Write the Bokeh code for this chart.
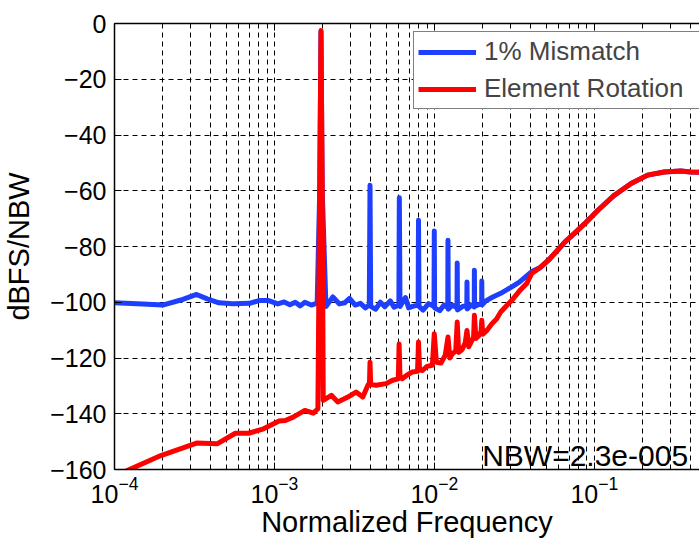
from bokeh.plotting import figure
from bokeh.models import FixedTicker, LogAxis, Label, Legend, LegendItem, Range1d
from bokeh.embed import file_html
from bokeh.resources import INLINE

# Spectra (normalized frequency vs dBFS/NBW)
blue_f = [1.0e-4, 1.5e-4, 2.0e-4, 2.6e-4, 3.26e-4, 3.8e-4, 4.5e-4, 5.5e-4, 7.0e-4, 8.0e-4,
          9.2e-4, 1.05e-3, 1.15e-3, 1.25e-3, 1.35e-3, 1.45e-3, 1.55e-3, 1.7e-3, 1.85e-3, 1.92e-3,
          1.955e-3, 1.99e-3, 2.10e-3, 2.32e-3, 2.55e-3, 2.75e-3, 2.95e-3, 3.2e-3, 3.45e-3, 3.7e-3,
          3.92e-3, 3.96e-3, 4.0e-3, 4.3e-3, 4.6e-3, 4.9e-3, 5.3e-3, 5.6e-3, 6.0e-3, 6.04e-3,
          6.1e-3, 6.6e-3, 6.9e-3, 7.3e-3, 7.92e-3, 7.96e-3, 8.02e-3, 8.5e-3, 9.2e-3, 9.95e-3,
          9.99e-3, 1.004e-2, 1.08e-2, 1.15e-2, 1.213e-2, 1.217e-2, 1.222e-2, 1.3e-2, 1.386e-2, 1.39e-2,
          1.395e-2, 1.5e-2, 1.596e-2, 1.60e-2, 1.605e-2, 1.7e-2, 1.776e-2, 1.78e-2, 1.785e-2, 1.9e-2,
          1.976e-2, 1.98e-2, 1.985e-2, 2.1e-2, 2.29e-2, 2.6e-2, 3.05e-2, 3.4e-2, 3.78e-2, 4.06e-2,
          4.6e-2, 5.15e-2, 5.8e-2, 6.54e-2, 7.6e-2, 8.71e-2, 0.1054, 0.1336, 0.170, 0.2156,
          0.2734, 0.347, 0.401, 0.455, 0.5]
blue_db = [-100.2, -100.6, -101.0, -99.2, -97.2, -98.8, -100.2, -100.5, -100.4, -99.4,
           -99.4, -100.6, -99.9, -100.9, -100.0, -101.3, -100.0, -101.0, -100.3, -60.0,
           -3.0, -60.0, -101.5, -98.1, -100.6, -100.2, -98.6, -101.0, -100.4, -102.0,
           -101.0, -58.0, -101.5, -102.5, -100.0, -101.6, -99.5, -101.8, -101.0, -62.5,
           -101.5, -98.3, -102.0, -101.5, -101.0, -70.6, -101.5, -102.8, -100.5, -101.5,
           -74.4, -102.0, -103.0, -101.0, -102.0, -77.8, -102.5, -101.0, -102.0, -85.9,
           -102.8, -101.5, -101.2, -92.7, -102.4, -101.0, -101.7, -88.5, -101.5, -100.8,
           -100.8, -92.4, -101.0, -99.5, -98.3, -96.8, -94.5, -92.8, -90.5, -89.0,
           -87.5, -85.0, -81.8, -78.4, -75.0, -71.8, -67.0, -61.6, -57.4, -54.4,
           -53.3, -52.9, -53.3, -53.4, -53.5]

red_f = [1.00e-4, 1.24e-4, 1.95e-4, 3.26e-4, 4.38e-4, 5.70e-4, 6.90e-4, 8.55e-4, 1.07e-3, 1.17e-3,
         1.31e-3, 1.55e-3, 1.75e-3, 1.87e-3, 1.92e-3, 1.955e-3, 1.99e-3, 2.02e-3,
         2.27e-3, 2.49e-3, 2.88e-3, 3.24e-3, 3.57e-3, 3.84e-3, 3.93e-3, 3.96e-3, 4.00e-3, 4.32e-3,
         4.98e-3, 5.48e-3, 5.95e-3, 6.02e-3, 6.10e-3, 6.30e-3, 6.8e-3, 7.3e-3, 7.85e-3, 7.96e-3,
         8.08e-3, 8.4e-3, 9.0e-3, 9.72e-3, 9.99e-3, 1.03e-2, 1.1e-2, 1.17e-2, 1.217e-2, 1.25e-2,
         1.295e-2, 1.36e-2, 1.39e-2, 1.42e-2, 1.49e-2, 1.56e-2, 1.60e-2, 1.64e-2, 1.72e-2, 1.76e-2,
         1.78e-2, 1.82e-2, 1.9e-2, 1.96e-2, 1.98e-2, 2.01e-2, 2.14e-2, 2.29e-2, 2.45e-2, 2.6e-2,
         2.8e-2, 3.05e-2, 3.4e-2, 3.78e-2, 4.06e-2, 4.6e-2, 5.15e-2, 5.8e-2, 6.54e-2, 7.6e-2,
         8.71e-2, 0.1054, 0.1336, 0.170, 0.2156, 0.2734, 0.347, 0.401, 0.455, 0.5]
red_db = [-162.5, -160.0, -155.0, -150.5, -150.8, -147.0, -147.0, -145.4, -142.6, -142.4,
          -141.2, -138.8, -139.8, -138.2, -60.0, -2.5, -60.0, -135.2,
          -133.4, -135.8, -134.0, -132.2, -134.0, -129.8, -129.0, -121.5, -129.5, -129.8,
          -129.2, -128.0, -127.5, -115.0, -126.8, -127.4, -126.0, -125.0, -124.8, -114.3,
          -124.0, -124.5, -123.0, -122.6, -111.3, -121.5, -121.8, -119.0, -112.5, -120.0,
          -118.5, -117.5, -107.1, -118.0, -117.0, -114.5, -110.1, -116.0, -113.7, -112.5,
          -104.7, -113.0, -112.0, -110.5, -106.5, -111.5, -110.0, -107.7, -106.0, -103.5,
          -101.5, -99.3, -96.0, -93.3, -89.7, -87.5, -85.0, -81.8, -78.4, -75.0,
          -71.8, -67.0, -61.6, -57.4, -54.4, -53.3, -52.9, -53.3, -53.4, -53.5]

series_names = ["1% Mismatch", "Element Rotation"]
x_decades = [1e-4, 1e-3, 1e-2, 1e-1]
y_ticks = [0, -20, -40, -60, -80, -100, -120, -140, -160]
nbw_text = "NBW=2.3e-005"

FONT = "Liberation Sans"
minor_x = [k * d for d in x_decades for k in range(2, 10)]

p = figure(width=699, height=541, x_axis_type="log",
           x_range=Range1d(1e-4, 0.455), y_range=Range1d(-160, 0),
           output_backend="svg", toolbar_location=None,
           min_border_left=110, min_border_right=0,
           min_border_top=23, min_border_bottom=72)
p.outline_line_color = None
p.background_fill_color = "white"
p.border_fill_color = "white"

xt = FixedTicker(ticks=x_decades, minor_ticks=minor_x)
yt = FixedTicker(ticks=y_ticks)

for g, t in ((p.xgrid, xt), (p.ygrid, yt)):
    g.ticker = t
    g.grid_line_color = "black"
    g.grid_line_dash = "5 4"
    g.grid_line_width = 1
p.xgrid.minor_grid_line_color = "black"
p.xgrid.minor_grid_line_dash = "5 4"
p.xgrid.minor_grid_line_width = 1

xa = p.xaxis[0]
ya = p.yaxis[0]
xa.ticker = xt
ya.ticker = yt
for ax in (xa, ya):
    ax.axis_line_width = 1.5
    ax.axis_line_color = "black"
    ax.major_tick_in = 7
    ax.major_tick_out = 0
    ax.minor_tick_in = 4
    ax.minor_tick_out = 0
    ax.major_tick_line_color = "black"
    ax.major_label_text_font = FONT
    ax.major_label_text_font_size = "25px"
    ax.major_label_text_color = "black"
    ax.axis_label_text_font = FONT
    ax.axis_label_text_font_size = "29px"
    ax.axis_label_text_font_style = "normal"
    ax.axis_label_text_color = "black"
xa.axis_label = "Normalized Frequency"
ya.axis_label = "dBFS/NBW"
xa.major_label_standoff = 6
xa.axis_label_standoff = 0
ya.major_label_standoff = 8
ya.axis_label_standoff = 12

# top frame edge with inward ticks, no labels
top = LogAxis(ticker=xt, major_label_text_font_size="2px", major_label_text_alpha=0,
              major_label_standoff=0, axis_line_width=1.5, major_tick_in=7,
              major_tick_out=0, minor_tick_in=4, minor_tick_out=0)
p.add_layout(top, "above")

r_blue = p.line(blue_f, blue_db, line_color="#1f3fff", line_width=5, line_join="round")
r_red = p.line(red_f, red_db, line_color="#ff0000", line_width=5, line_join="round")

legend = Legend(items=[LegendItem(label=series_names[0], renderers=[r_blue]),
                       LegendItem(label=series_names[1], renderers=[r_red])],
                location=(299, 360),
                label_text_font=FONT, label_text_font_size="26px",
                glyph_width=58, glyph_height=30, label_standoff=8, label_width=211,
                padding=4, spacing=6, margin=0,
                border_line_color="black", border_line_width=1.5,
                background_fill_color="white", background_fill_alpha=1)
p.add_layout(legend)

p.add_layout(Label(x=0.0199, y=-155.0, text=nbw_text, text_font=FONT,
                   text_font_size="30px", text_color="black",
                   text_baseline="middle"))

open("out.html", "w").write(file_html(p, INLINE))
